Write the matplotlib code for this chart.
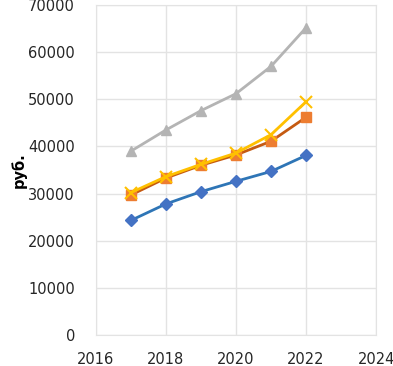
import matplotlib.pyplot as plt

years = [2017, 2018, 2019, 2020, 2021, 2022]
blue_vals = [24300, 27800, 30400, 32600, 34700, 38100]
orange_vals = [29700, 33300, 36000, 38200, 41100, 46200]
gray_vals = [39000, 43500, 47600, 51200, 57000, 65200]
yellow_vals = [30200, 33600, 36200, 38600, 42500, 49500]

fig = plt.figure(figsize=(3.93, 3.66), dpi=100)
ax = fig.add_axes([0.244, 0.085, 0.713, 0.901])

ax.plot(years, blue_vals, color='#2E75B6', lw=2.0, marker='D', ms=6,
        mfc='#4472C4', mec='#4472C4')
ax.plot(years, gray_vals, color='#B4B4B4', lw=2.0, marker='^', ms=7.5,
        mfc='#B4B4B4', mec='#B4B4B4')
ax.plot(years, orange_vals, color='#C55A11', lw=2.0, marker='s', ms=7,
        mfc='#ED7D31', mec='#ED7D31')
ax.plot(years, yellow_vals, color='#FFC000', lw=2.0, marker='x', ms=8,
        mew=1.5, mec='#FFC000')

ax.set_xlim(2016, 2024)
ax.set_ylim(0, 70000)
ax.set_xticks(range(2016, 2025, 2))
ax.set_yticks(range(0, 70001, 10000))
ax.grid(True, color='#E3E3E3', lw=1)
ax.set_axisbelow(True)
for s in ax.spines.values():
    s.set_color('#E3E3E3')
ax.tick_params(length=0, labelsize=10.5, colors='#262626', pad=12)
ax.tick_params(axis='y', pad=15)
ax.set_ylabel('руб.', fontsize=10.5, fontweight='bold', labelpad=1)

fig.savefig('out.png', dpi=100)
